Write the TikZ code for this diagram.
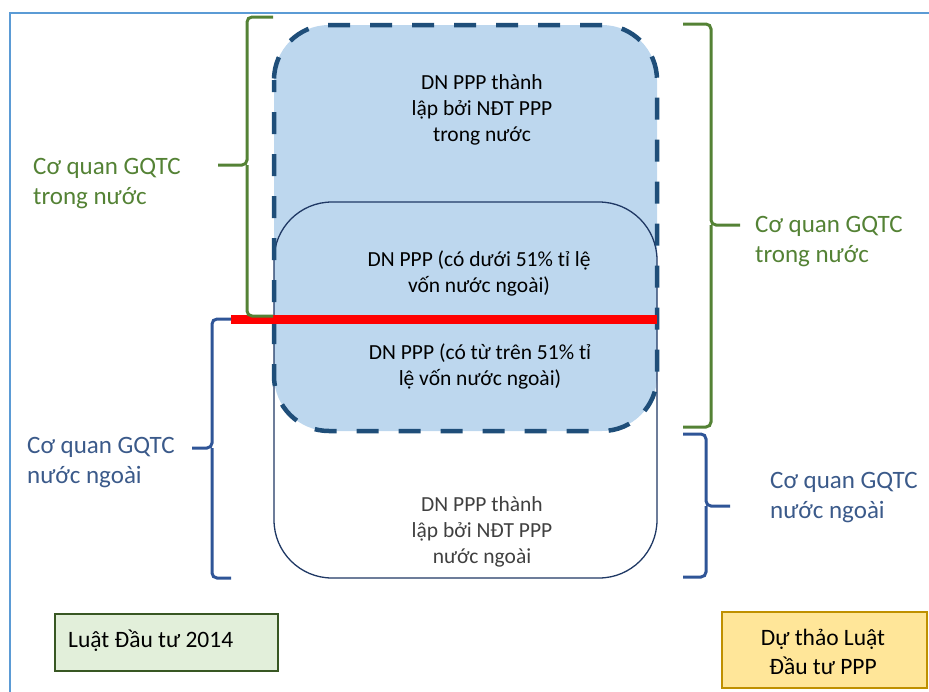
\documentclass[tikz,border=0pt]{standalone}
\usepackage{fontspec}
\setmainfont{Carlito}
\definecolor{frameblue}{HTML}{5B9BD5}
\definecolor{lightblue}{HTML}{BDD7EE}
\definecolor{dashblue}{HTML}{1F4E79}
\definecolor{navy}{HTML}{1F3864}
\definecolor{bracegreen}{HTML}{548235}
\definecolor{braceblue}{HTML}{2F5597}
\definecolor{textblue}{HTML}{3B5A8A}
\definecolor{boxgreen}{HTML}{E2EFDA}
\definecolor{boxgreenline}{HTML}{385723}
\definecolor{boxyellow}{HTML}{FFE699}
\definecolor{boxyellowline}{HTML}{BF9000}
\definecolor{graytext}{HTML}{404040}
\begin{document}
\begin{tikzpicture}[x=1pt,y=-1pt,
  inner/.style={font=\fontsize{21.5}{26}\selectfont, align=center, inner sep=0pt},
  side/.style={font=\fontsize{25}{30}\selectfont, align=left, inner sep=0pt, anchor=west},
  brace/.style={line width=3pt, rounded corners=5pt},
  legend/.style={font=\fontsize{23.5}{29}\selectfont, inner sep=0pt}
]
\useasboundingbox (0,0) rectangle (929,691);
% frame
\draw[frameblue, line width=2pt] (10,700) -- (10,13) -- (940,13);
% dashed box fill
\fill[lightblue] (274,25) [rounded corners=55pt] rectangle (657,431);
% inner solid box
\draw[navy, line width=1.3pt, rounded corners=58pt] (274,202) rectangle (657,578);
% dashed outline
\draw[dashblue, line width=4.5pt, dash pattern=on 22pt off 20pt, dash phase=10pt, rounded corners=55pt] (274,25) rectangle (657,431);
% red line
\coordinate (rl) at (231,319);
\coordinate (rr) at (657,319);
\draw[red, line width=9pt] (rl) -- (rr);
% left green brace
\coordinate (lgt) at (273,17);
\coordinate (lgm) at (218,165);
\coordinate (lgb) at (273,316);
\draw[bracegreen, brace] (lgt) -- (247,17) -- (247,165) -- (lgm);
\draw[bracegreen, brace] (247,165) -- (247,316) -- (lgb);
% left blue brace
\coordinate (lbt) at (231,319);
\coordinate (lbm) at (192,448);
\coordinate (lbb) at (231,578);
\draw[braceblue, brace] (lbt) -- (212,319) -- (212,448) -- (lbm);
\draw[braceblue, brace] (212,448) -- (212,578) -- (lbb);
% right green brace
\coordinate (rgt) at (683,24);
\coordinate (rgm) at (740,225);
\coordinate (rgb) at (683,427);
\draw[bracegreen, brace] (rgt) -- (711,24) -- (711,225) -- (rgm);
\draw[bracegreen, brace] (711,225) -- (711,427) -- (rgb);
% right blue brace
\coordinate (rbt) at (683,434);
\coordinate (rbm) at (730,506);
\coordinate (rbb) at (683,577);
\draw[braceblue, brace] (rbt) -- (706,434) -- (706,506) -- (rbm);
\draw[braceblue, brace] (706,506) -- (706,577) -- (rbb);
% inner texts
\node[inner] (t1) at (482,110) {DN PPP thành\\lập bởi NĐT PPP\\trong nước};
\node[inner] (t2) at (479,273) {DN PPP (có dưới 51\% tỉ lệ\\vốn nước ngoài)};
\node[inner] (t3) at (480,366) {DN PPP (có từ trên 51\% tỉ\\lệ vốn nước ngoài)};
\node[inner, text=graytext] (t4) at (482,532) {DN PPP thành\\lập bởi NĐT PPP\\nước ngoài};
% side texts
\node[side, text=bracegreen] (lg) at (33,184) {Cơ quan GQTC\\trong nước};
\node[side, text=textblue] (lb) at (27,463) {Cơ quan GQTC\\nước ngoài};
\node[side, text=bracegreen] (rg) at (755,242) {Cơ quan GQTC\\trong nước};
\node[side, text=textblue] (rb) at (770,498) {Cơ quan GQTC\\nước ngoài};
% legend boxes
\draw[boxgreenline, fill=boxgreen, line width=1.5pt] (55,614) rectangle (278,671);
\node[legend, anchor=west] (l1) at (68,641) {Luật Đầu tư 2014};
\draw[boxyellowline, fill=boxyellow, line width=1.5pt] (722,612) rectangle (927,688);
\node[legend, align=center] (l2) at (823,652) {Dự thảo Luật\\Đầu tư PPP};
\end{tikzpicture}
\end{document}
